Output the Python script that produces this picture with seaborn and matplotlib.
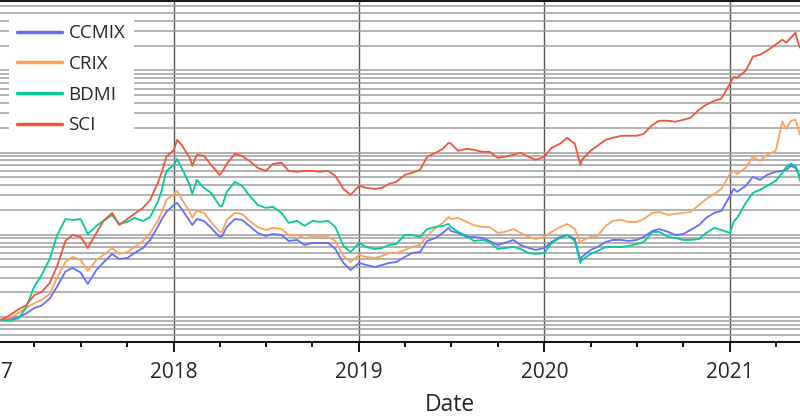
import numpy as np
import pandas as pd
import matplotlib
matplotlib.use("Agg")
import matplotlib.pyplot as plt
import matplotlib.dates as mdates
from matplotlib.ticker import LogLocator, NullFormatter
import seaborn as sns

# ---------------- data ----------------
dates = [
    "2017-01-20", "2017-02-01", "2017-02-15", "2017-03-01", "2017-03-15", "2017-04-01",
    "2017-04-15", "2017-05-01", "2017-05-15", "2017-06-01", "2017-06-15", "2017-07-01",
    "2017-07-15", "2017-08-01", "2017-08-15", "2017-09-01", "2017-09-15", "2017-10-01",
    "2017-10-15", "2017-11-01", "2017-11-15", "2017-12-01", "2017-12-08", "2017-12-17",
    "2018-01-01", "2018-01-07", "2018-01-16", "2018-02-01", "2018-02-06", "2018-02-15",
    "2018-03-01", "2018-03-15", "2018-04-01", "2018-04-06", "2018-04-15", "2018-05-01",
    "2018-05-15", "2018-06-01", "2018-06-15", "2018-07-01", "2018-07-15", "2018-08-01",
    "2018-08-15", "2018-09-01", "2018-09-15", "2018-10-01", "2018-10-15", "2018-11-01",
    "2018-11-15", "2018-12-01", "2018-12-15",
    "2019-01-01", "2019-01-15", "2019-02-01", "2019-02-15", "2019-03-01", "2019-03-15",
    "2019-04-01", "2019-04-15", "2019-05-01", "2019-05-15", "2019-06-01", "2019-06-15",
    "2019-06-26", "2019-07-01", "2019-07-15", "2019-08-01", "2019-08-15", "2019-09-01",
    "2019-09-15", "2019-10-01", "2019-10-15", "2019-11-01", "2019-11-15", "2019-12-01",
    "2019-12-15",
    "2020-01-01", "2020-01-15", "2020-02-01", "2020-02-15", "2020-03-01", "2020-03-12",
    "2020-03-15", "2020-04-01", "2020-04-15", "2020-05-01", "2020-05-15", "2020-06-01",
    "2020-06-15", "2020-07-01", "2020-07-15", "2020-08-01", "2020-08-15", "2020-09-01",
    "2020-09-15", "2020-10-01", "2020-10-15", "2020-11-01", "2020-11-15", "2020-12-01",
    "2020-12-15",
    "2021-01-01", "2021-01-08", "2021-01-15", "2021-02-01", "2021-02-15", "2021-03-01",
    "2021-03-15", "2021-04-01", "2021-04-14", "2021-04-22", "2021-05-01", "2021-05-10",
    "2021-05-15", "2021-05-19",
]

ccmix = [
    0.91, 0.92, 0.96, 1.0, 1.09, 1.28, 1.37, 1.67, 2.30, 3.56, 3.93, 3.46,
    2.51, 3.71, 4.58, 5.82, 5.05, 5.20, 5.98, 6.88, 8.62, 12.8, 15.5, 18.9,
    23.0, 24.4, 20.6, 14.7, 13.1, 15.5, 14.7, 12.1, 9.38, 9.64, 12.4, 15.5,
    15.1, 12.4, 10.5, 9.64, 10.2, 9.92, 8.38, 8.62, 7.49, 7.92, 7.92, 7.92,
    6.69, 4.52, 3.71,
    4.52, 4.27, 4.04, 4.27, 4.52, 4.64, 5.35, 5.98, 6.15, 8.38, 9.12, 10.5,
    12.1, 11.1, 10.5, 9.38, 9.38, 9.12, 8.38, 7.49, 7.92, 8.62, 7.49, 6.88, 6.51,
    6.88, 8.15, 9.38, 9.92, 8.86, 4.91, 5.35, 6.51, 7.08, 8.15, 8.62, 8.62,
    8.38, 8.62, 9.38, 11.1, 11.7, 10.8, 9.92, 10.2, 11.4, 13.1, 16.0, 18.4, 19.5,
    29.6, 36.1, 33.2, 39.3, 50.5, 46.5, 53.5, 58.2, 59.8, 61.5, 68.9, 65.1, 56.5, 52.0,
]

crix = [
    0.91, 0.94, 0.99, 1.11, 1.28, 1.47, 1.60, 1.89, 2.96, 4.64, 5.35, 4.91,
    3.61, 4.91, 5.65, 6.88, 5.82, 6.15, 7.08, 8.38, 10.5, 15.1, 18.9, 26.5,
    31.3, 34.1, 27.2, 18.9, 16.0, 19.5, 18.4, 14.3, 10.8, 10.8, 15.1, 18.4,
    17.9, 14.3, 12.4, 11.4, 12.1, 11.7, 9.92, 9.92, 9.12, 9.38, 9.38, 9.38,
    8.38, 5.50, 4.64,
    5.65, 5.35, 5.20, 5.50, 5.98, 5.98, 6.51, 7.08, 7.49, 9.64, 12.1, 13.9,
    16.4, 15.5, 16.0, 14.3, 13.1, 12.4, 12.4, 10.5, 10.8, 11.7, 10.5, 9.38, 8.86,
    9.38, 10.8, 12.4, 13.5, 11.7, 7.92, 8.38, 9.38, 9.64, 12.8, 14.7, 15.1,
    14.3, 14.3, 15.5, 18.4, 18.9, 17.4, 17.9, 18.4, 18.9, 23.0, 27.2, 31.3, 36.1,
    55.0, 59.8, 55.0, 65.1, 88.7, 79.2, 93.8, 105, 237, 194, 244, 250, 200, 164,
]

bdmi = [
    0.91, 0.91, 0.91, 0.96, 1.28, 2.37, 3.23, 5.05, 9.64, 15.5, 15.1, 15.5,
    10.2, 12.8, 14.7, 17.4, 13.5, 14.3, 16.0, 14.7, 16.4, 25.8, 35.1, 59.8,
    70.8, 83.8, 65.1, 40.4, 31.3, 46.5, 37.1, 32.3, 22.4, 22.4, 33.2, 43.9,
    39.3, 28.8, 23.0, 21.2, 21.8, 18.4, 13.9, 14.7, 12.8, 14.7, 14.3, 14.7,
    12.4, 7.28, 6.15,
    7.92, 7.08, 6.69, 6.88, 7.49, 7.70, 9.92, 9.92, 9.38, 11.7, 12.4, 12.8,
    13.5, 12.4, 10.8, 9.64, 8.38, 8.62, 8.15, 6.69, 6.88, 7.08, 6.69, 5.98, 5.82,
    5.98, 7.92, 9.12, 9.92, 8.38, 4.52, 4.91, 5.82, 6.33, 7.08, 7.08, 7.08,
    7.28, 7.70, 8.15, 10.8, 10.8, 9.38, 9.12, 8.62, 8.62, 8.86, 10.5, 12.1, 11.4,
    10.5, 14.3, 16.0, 24.4, 32.3, 35.1, 39.3, 45.2, 56.5, 66.9, 72.8, 68.9, 58.2, 45.2,
]

sci = [
    0.90, 0.96, 1.08, 1.24, 1.37, 1.84, 2.0, 2.58, 4.04, 8.38, 9.92, 9.38,
    6.88, 10.5, 14.7, 18.4, 13.1, 15.5, 17.9, 21.2, 26.5, 43.9, 58.2, 88.7,
    108, 143, 124, 86.2, 68.9, 93.8, 91.2, 70.8, 53.5, 58.2, 72.8, 96.4,
    91.2, 77.1, 65.1, 59.8, 72.8, 74.9, 59.8, 58.2, 59.8, 59.8, 58.2, 59.8,
    52.0, 36.1, 30.5,
    39.3, 37.1, 36.1, 37.1, 41.5, 43.9, 53.5, 56.5, 61.5, 88.7, 99.2, 111,
    131, 128, 105, 111, 108, 102, 102, 86.2, 88.7, 93.8, 99.2, 88.7, 81.5,
    88.7, 114, 128, 151, 128, 70.8, 81.5, 105, 121, 143, 151, 160,
    160, 160, 169, 218, 244, 244, 237, 250, 265, 332, 382, 427, 452,
    689, 838, 815, 991, 1470, 1550, 1740, 2060, 2370, 2180, 2510, 2880, 2180, 1890,
]

series_names = ["CCMIX", "CRIX", "BDMI", "SCI"]
colors = ["#636EFA", "#FFA15A", "#00CC96", "#EF553B"]

# ---------------- styling ----------------
sns.set_theme(style="white")
plt.rcParams["font.family"] = ["Open Sans", "DejaVu Sans"]

df = pd.DataFrame({"Date": pd.to_datetime(dates), "CCMIX": ccmix, "CRIX": crix,
                   "BDMI": bdmi, "SCI": sci})
long = df.melt(id_vars="Date", var_name="Index", value_name="Value")

W, H = 800, 418
fig = plt.figure(figsize=(W / 100, H / 100), dpi=100)
ax_left, ax_right = -40, 860
ax_top, ax_bottom = 1, 341.5
ax = fig.add_axes([ax_left / W, (H - ax_bottom) / H,
                   (ax_right - ax_left) / W, (ax_bottom - ax_top) / H])

sns.lineplot(data=long, x="Date", y="Value", hue="Index", hue_order=series_names,
             palette=colors, linewidth=1.3, ax=ax, legend=True)

ax.set_yscale("log")
ax.set_ylim(0.5, 7000)

# x-range: 1 Jan 2018 sits at pixel 174, one year spans ~185.3 px
anchor = pd.Timestamp("2018-01-01")
px_per_day = 185.3 / 365.25
ax.set_xlim(anchor + pd.Timedelta(days=(ax_left - 174) / px_per_day),
            anchor + pd.Timedelta(days=(ax_right - 174) / px_per_day))

ax.yaxis.set_major_locator(LogLocator(base=10, numticks=100))
ax.yaxis.set_minor_locator(LogLocator(base=10, subs=np.arange(2, 10) * 1.0, numticks=100))
ax.yaxis.set_minor_formatter(NullFormatter())
ax.tick_params(axis="y", which="both", labelleft=False, left=False)
ax.set_ylabel("")

ax.xaxis.set_major_locator(mdates.YearLocator())
ax.xaxis.set_major_formatter(mdates.DateFormatter("%Y"))
ax.xaxis.set_minor_locator(mdates.MonthLocator(bymonth=[4, 7, 10]))

ax.set_axisbelow(True)
ax.grid(False)
ax.yaxis.grid(True, which="both", color="#9e9e9e", linewidth=1.1)
ax.xaxis.grid(True, which="major", color="#555555", linewidth=1.0)

for s in ax.spines.values():
    s.set_color("black")
    s.set_linewidth(1.3)

ax.tick_params(axis="x", which="major", direction="out", length=7, width=1.3,
               color="black", labelsize=15, pad=8, bottom=True)
ax.tick_params(axis="x", which="minor", direction="out", length=3.5, width=1.3,
               color="black", bottom=True)
ax.set_xlabel("Date", fontsize=16.5)
ax.xaxis.set_label_coords((450 - ax_left) / (ax_right - ax_left), -0.152)

handles, labels = ax.get_legend_handles_labels()
leg = ax.legend(handles, labels, loc="upper left",
                bbox_to_anchor=(9 / W, 1 - 16 / H), bbox_transform=fig.transFigure,
                borderaxespad=0, frameon=True, fancybox=False, framealpha=1,
                edgecolor="none", facecolor="white", fontsize=13.5,
                handlelength=2.4, handletextpad=0.32, labelspacing=0.67,
                borderpad=0.45, title=None)
for ln in leg.get_lines():
    ln.set_linewidth(2.5)

fig.savefig("out.png", dpi=100)
